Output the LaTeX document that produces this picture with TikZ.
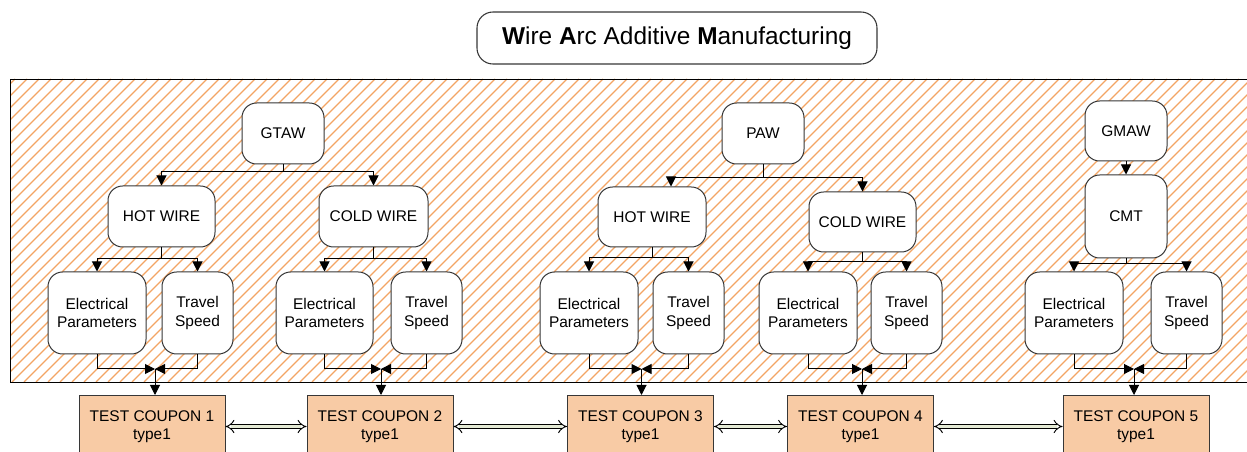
\documentclass[tikz,border=0pt]{standalone}
\usepackage{fontspec}
\setmainfont{Liberation Sans}
\usetikzlibrary{arrows.meta,calc}
\definecolor{hatch}{RGB}{243,165,100}
\definecolor{coupon}{RGB}{248,203,165}
\definecolor{dblfill}{RGB}{228,234,213}
\definecolor{edge}{RGB}{55,55,55}
\tikzset{
  rbox/.style={draw=edge, line width=0.75pt, fill=white, rounded corners=11pt,
    align=center, inner sep=0pt, font=\fontsize{11.6}{13.9}\selectfont},
  cbox/.style={draw=edge, line width=0.75pt, fill=coupon, anchor=north,
    minimum width=109.5pt, minimum height=46.5pt, align=center, inner sep=0pt,
    font=\fontsize{11.6}{13.5}\selectfont},
  conn/.style={draw=black, line width=0.75pt},
  arr/.style={conn, -{Triangle[length=7.5pt,width=7.5pt]}},
  dblarr/.style={draw=black, line width=0.7pt, double=dblfill, double distance=2.8pt,
    {Implies}-{Implies}},
}
\begin{document}
\begin{tikzpicture}[x=0.75pt,y=-0.75pt]
\useasboundingbox (0,0) rectangle (1247,452);
% hatched field
\begin{scope}
  \clip (10,79) rectangle (1252,382);
  \fill[white] (10,79) rectangle (1252,382);
  \foreach \i in {-300,-288,...,1260}
    \draw[hatch, line width=1.05pt] (\i,382) -- ++(303,-303);
\end{scope}
\draw[black, line width=0.65pt] (10,79) rectangle (1252,382);
% title
\node[draw=edge, line width=0.8pt, fill=white, rounded corners=12pt,
  minimum width=300pt, minimum height=39pt, inner sep=0pt,
  font=\fontsize{18.3}{20}\selectfont] (title) at (677,38)
  {\textbf{W}ire \textbf{A}rc Additive \textbf{M}anufacturing};
% process boxes
\node[rbox, minimum width=61.5pt, minimum height=45.75pt] (gtaw) at (283,133.5) {GTAW};
\node[rbox, minimum width=80.25pt, minimum height=45.75pt] (hw1) at (161.5,216.5) {HOT WIRE};
\node[rbox, minimum width=81.75pt, minimum height=45.75pt] (cw1) at (373.5,216.5) {COLD WIRE};
\node[rbox, minimum width=73.5pt, minimum height=61.5pt] (ep1) at (97,313) {Electrical\\Parameters};
\node[rbox, minimum width=53.25pt, minimum height=61.5pt] (ts1) at (197.5,313) {Travel\\Speed};
\node[rbox, minimum width=72.75pt, minimum height=61.5pt] (ep2) at (324.5,313) {Electrical\\Parameters};
\node[rbox, minimum width=53.25pt, minimum height=61.5pt] (ts2) at (426.5,313) {Travel\\Speed};
\node[rbox, minimum width=61.5pt, minimum height=45.75pt] (paw) at (763,133.5) {PAW};
\node[rbox, minimum width=81pt, minimum height=45pt] (hw2) at (652,217) {HOT WIRE};
\node[rbox, minimum width=80.25pt, minimum height=45pt] (cw2) at (862.5,222) {COLD WIRE};
\node[rbox, minimum width=73.5pt, minimum height=61.5pt] (ep3) at (589,313) {Electrical\\Parameters};
\node[rbox, minimum width=53.25pt, minimum height=61.5pt] (ts3) at (688.5,313) {Travel\\Speed};
\node[rbox, minimum width=73.5pt, minimum height=61.5pt] (ep4) at (808,313) {Electrical\\Parameters};
\node[rbox, minimum width=53.25pt, minimum height=61.5pt] (ts4) at (906.5,313) {Travel\\Speed};
\node[rbox, minimum width=61.5pt, minimum height=45pt] (gmaw) at (1126,131) {GMAW};
\node[rbox, minimum width=61.5pt, minimum height=62.25pt] (cmt) at (1126,216.5) {CMT};
\node[rbox, minimum width=73.5pt, minimum height=61.5pt] (ep5) at (1074,313) {Electrical\\Parameters};
\node[rbox, minimum width=53.25pt, minimum height=61.5pt] (ts5) at (1186.5,313) {Travel\\Speed};
% coupons
\node[cbox] (c1) at (152,395) {TEST COUPON 1\\type1};
\node[cbox] (c2) at (380,395) {TEST COUPON 2\\type1};
\node[cbox] (c3) at (640.5,395) {TEST COUPON 3\\type1};
\node[cbox] (c4) at (860.5,395) {TEST COUPON 4\\type1};
\node[cbox] (c5) at (1136,395) {TEST COUPON 5\\type1};
% junctions
\coordinate (jg) at (283,172);
\coordinate (jh1) at (161.5,259);
\coordinate (jc1) at (373.5,259);
\coordinate (jp) at (763,177.5);
\coordinate (jh2) at (652,258);
\coordinate (jc2) at (862.5,262);
\coordinate (jm) at (1126,264);
\coordinate (m1) at (155,369);
\coordinate (m2) at (381,369);
\coordinate (m3) at (641.5,369);
\coordinate (m4) at (862,369);
\coordinate (m5) at (1134,369);
% GTAW tree
\draw[conn] (gtaw.south) -- (jg);
\draw[arr] (jg) -| (hw1.north);
\draw[arr] (jg) -| (cw1.north);
\draw[conn] (hw1.south) -- (jh1);
\draw[arr] (jh1) -| (ep1.north);
\draw[arr] (jh1) -| (ts1.north);
\draw[conn] (cw1.south) -- (jc1);
\draw[arr] (jc1) -| (ep2.north);
\draw[arr] (jc1) -| (ts2.north);
% PAW tree
\draw[conn] (paw.south) -- (jp);
\draw[arr] (jp) -| ([xshift=14.25pt]hw2.north);
\draw[arr] (jp) -| (cw2.north);
\draw[conn] (hw2.south) -- (jh2);
\draw[arr] (jh2) -| (ep3.north);
\draw[arr] (jh2) -| (ts3.north);
\draw[conn] (cw2.south) -- (jc2);
\draw[arr] (jc2) -| (ep4.north);
\draw[arr] (jc2) -| (ts4.north);
% GMAW tree
\draw[arr] (gmaw.south) -- (cmt.north);
\draw[conn] (cmt.south) -- (jm);
\draw[arr] (jm) -| (ep5.north);
\draw[arr] (jm) -| (ts5.north);
% merges to coupons
\foreach \e/\t/\m/\c in {ep1/ts1/m1/c1, ep2/ts2/m2/c2, ep3/ts3/m3/c3, ep4/ts4/m4/c4, ep5/ts5/m5/c5}{
  \draw[arr] (\e.south) |- (\m);
  \draw[arr] (\t.south) |- (\m);
  \draw[arr] (\m) -- (\m |- \c.north);
}
% coupon links
\draw[dblarr] (c1.east) -- (c2.west);
\draw[dblarr] (c2.east) -- (c3.west);
\draw[dblarr] (c3.east) -- (c4.west);
\draw[dblarr] (c4.east) -- (c5.west);
\end{tikzpicture}
\end{document}
